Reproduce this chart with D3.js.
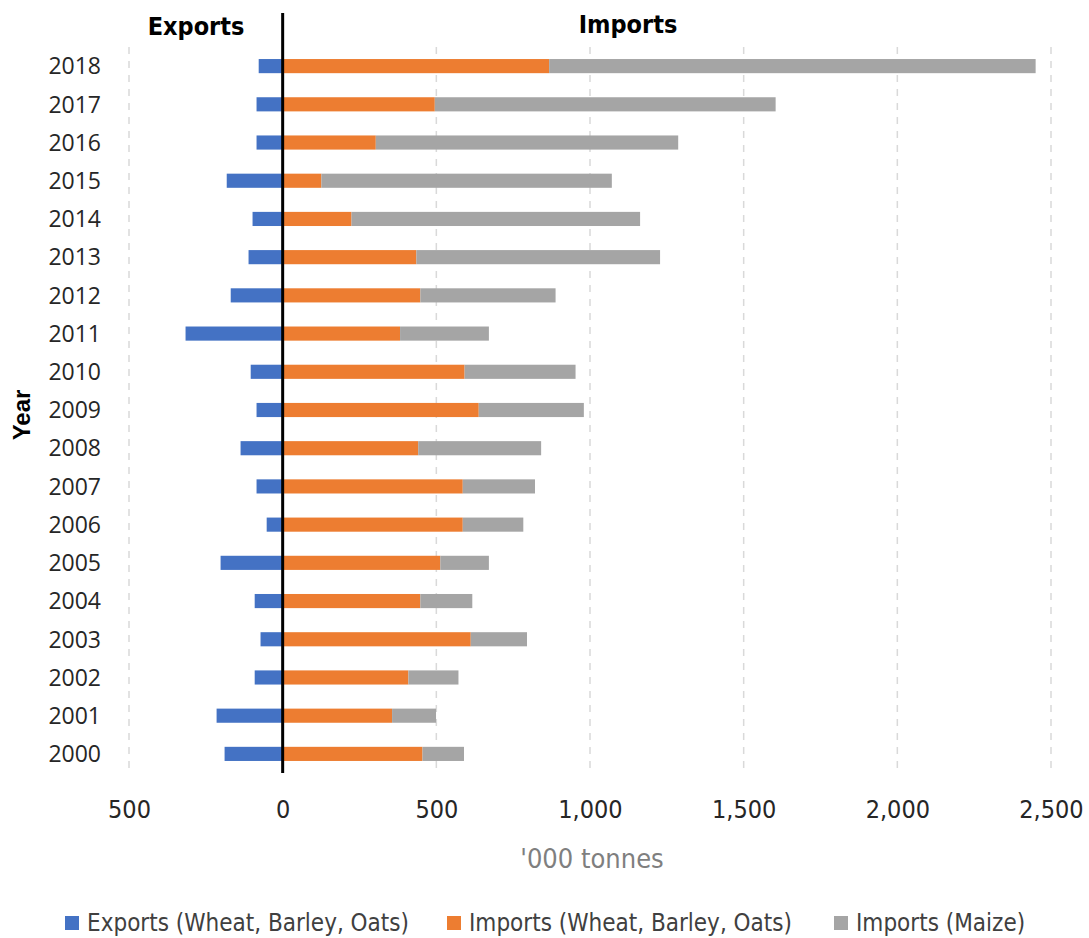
<!DOCTYPE html>
<html>
<head>
<meta charset="utf-8">
<script src="https://cdn.jsdelivr.net/npm/d3@7"></script>
<style>
    body { margin: 0; background: #fff; }
    svg { display: block; }
    .narrow { font-family: "Liberation Sans Narrow", "Arial Narrow", "DejaVu Sans Condensed", sans-serif; }
</style>
</head>
<body>
<svg id="chart" width="1089" height="938"></svg>
<script>
// data ('000 tonnes)
var years = ['2000','2001','2002','2003','2004','2005','2006','2007','2008','2009',
             '2010','2011','2012','2013','2014','2015','2016','2017','2018'];
var exportsGrain = [189, 215, 91, 72, 91, 202, 52, 85, 137, 85, 104, 316, 169, 111, 98, 182, 85, 85, 78];
var importsGrain = [455, 356, 409, 612, 448, 513, 586, 586, 441, 638, 592, 382, 448, 435, 224, 126, 303, 495, 867];
var importsMaize = [135, 143, 163, 183, 169, 158, 197, 235, 400, 342, 361, 289, 440, 793, 939, 945, 984, 1109, 1583];
var tickValues = [-500, 0, 500, 1000, 1500, 2000, 2500];
var seriesNames = ['Exports (Wheat, Barley, Oats)', 'Imports (Wheat, Barley, Oats)', 'Imports (Maize)'];
var seriesColors = ['#4472C4', '#ED7D31', '#A5A5A5'];

var svg = d3.select('#chart');

var x = d3.scaleLinear()
    .domain([-500, 2500])
    .range([129, 1051]);

var y = d3.scaleBand()
    .domain(years.slice().reverse())
    .range([47, 773])
    .paddingInner(0.63)
    .paddingOuter(0.315);

var rows = years.map(function(d, i) {
    return { year: d, exp: exportsGrain[i], grain: importsGrain[i], maize: importsMaize[i] };
});

drawGrid();
drawBars();
drawAxes();
drawLegend();

function drawGrid(){
    svg.append('g').selectAll('line.grid')
        .data(tickValues.filter(function(d) { return d != 0; }))
        .enter().append('line')
        .attr('class', 'grid')
        .attr('x1', function(d) { return x(d); })
        .attr('x2', function(d) { return x(d); })
        .attr('y1', 47)
        .attr('y2', 773)
        .style('stroke', '#d9d9d9')
        .style('stroke-width', 1.5)
        .style('stroke-dasharray', '7,7');
}

function drawBars(){
    var g = svg.append('g');
    // exports go to the left of zero
    g.selectAll('rect.exp').data(rows).enter()
        .append('rect')
        .attr('class', 'exp')
        .attr('x', function(d) { return x(-d.exp); })
        .attr('y', function(d) { return y(d.year); })
        .attr('width', function(d) { return x(0) - x(-d.exp); })
        .attr('height', y.bandwidth())
        .style('fill', seriesColors[0]);
    g.selectAll('rect.grain').data(rows).enter()
        .append('rect')
        .attr('class', 'grain')
        .attr('x', x(0))
        .attr('y', function(d) { return y(d.year); })
        .attr('width', function(d) { return x(d.grain) - x(0); })
        .attr('height', y.bandwidth())
        .style('fill', seriesColors[1]);
    g.selectAll('rect.maize').data(rows).enter()
        .append('rect')
        .attr('class', 'maize')
        .attr('x', function(d) { return x(d.grain); })
        .attr('y', function(d) { return y(d.year); })
        .attr('width', function(d) { return x(d.grain + d.maize) - x(d.grain); })
        .attr('height', y.bandwidth())
        .style('fill', seriesColors[2]);

    // zero line, runs up between the two headings
    svg.append('line')
        .attr('x1', x(0)).attr('x2', x(0))
        .attr('y1', 13).attr('y2', 773)
        .style('stroke', '#000')
        .style('stroke-width', 3);
}

function drawAxes(){
    var fmt = d3.format(',');
    var xAxis = svg.append('g')
        .attr('class', 'narrow')
        .attr('transform', 'translate(0,773)')
        .call(d3.axisBottom(x)
            .tickValues(tickValues)
            .tickSize(0)
            .tickPadding(27)
            .tickFormat(function(d) { return fmt(Math.abs(d)); }));
    xAxis.select('.domain').remove();
    xAxis.selectAll('text')
        .attr('fill', '#262626')
        .style('font-size', '25px');

    var yAxis = svg.append('g')
        .attr('transform', 'translate(101,0)')
        .call(d3.axisLeft(y).tickSize(0).tickPadding(0));
    yAxis.select('.domain').remove();
    yAxis.selectAll('text')
        .attr('fill', '#262626')
        .attr('dy', '0.36em')
        .style('font-family', '"Open Sans", sans-serif')
        .style('font-size', '23px');

    svg.append('text')
        .attr('class', 'narrow')
        .attr('x', 592)
        .attr('y', 868)
        .attr('text-anchor', 'middle')
        .attr('fill', '#7f7f7f')
        .style('font-size', '27px')
        .text("'000 tonnes");

    svg.append('text')
        .attr('transform', 'translate(30,415) rotate(-90)')
        .attr('text-anchor', 'middle')
        .attr('font-weight', 'bold')
        .attr('fill', '#000')
        .style('font-family', '"Liberation Sans", Arial, sans-serif')
        .style('font-size', '24px')
        .text('Year');

    svg.append('text')
        .attr('class', 'narrow')
        .attr('x', 196)
        .attr('y', 35)
        .attr('text-anchor', 'middle')
        .attr('font-weight', 'bold')
        .style('font-size', '25px')
        .text('Exports');

    svg.append('text')
        .attr('class', 'narrow')
        .attr('x', 628)
        .attr('y', 33)
        .attr('text-anchor', 'middle')
        .attr('font-weight', 'bold')
        .style('font-size', '25px')
        .text('Imports');
}

function drawLegend(){
    var legendX = [65, 447, 834];
    var g = svg.append('g').attr('class', 'narrow');
    var items = g.selectAll('g.item')
        .data(seriesNames)
        .enter().append('g')
        .attr('class', 'item')
        .attr('transform', function(d, i) { return 'translate(' + legendX[i] + ',922)'; });
    items.append('rect')
        .attr('x', 0)
        .attr('y', -6)
        .attr('width', 14)
        .attr('height', 14)
        .style('fill', function(d, i) { return seriesColors[i]; });
    items.append('text')
        .attr('x', 22)
        .attr('y', 0)
        .attr('dy', '0.36em')
        .attr('fill', '#404040')
        .style('font-size', '24px')
        .text(function(d) { return d; });
}
</script>
</body>
</html>
